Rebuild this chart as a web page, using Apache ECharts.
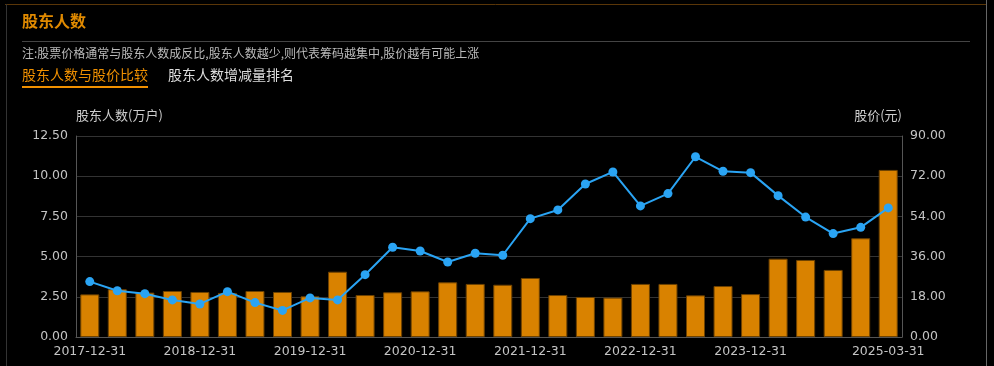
<!DOCTYPE html>
<html><head><meta charset="utf-8">
<script src="https://cdn.jsdelivr.net/npm/echarts@6/dist/echarts.min.js"></script>
<style>html,body{margin:0;padding:0;background:#000;}#c{width:994px;height:366px;}</style>
</head><body><div id="c"></div>
<script>
const categories = ['2017-12-31','2018-03-31','2018-06-30','2018-09-30','2018-12-31','2019-03-31','2019-06-30','2019-09-30','2019-12-31','2020-03-31','2020-06-30','2020-09-30','2020-12-31','2021-03-31','2021-06-30','2021-09-30','2021-12-31','2022-03-31','2022-06-30','2022-09-30','2022-12-31','2023-03-31','2023-06-30','2023-09-30','2023-12-31','2024-03-31','2024-06-30','2024-09-30','2024-12-31','2025-03-31'];
const holders = [2.65,2.97,2.76,2.86,2.80,2.74,2.86,2.80,2.53,4.06,2.61,2.78,2.84,3.40,3.30,3.25,3.67,2.61,2.49,2.45,3.30,3.30,2.59,3.17,2.67,4.87,4.79,4.17,6.14,10.39];
const prices = [24.8,20.7,19.4,16.6,14.8,20.3,15.4,11.9,17.5,16.6,27.9,40.2,38.5,33.6,37.5,36.6,53.0,56.9,68.5,73.9,58.7,64.2,80.7,74.2,73.6,63.3,53.7,46.3,49.1,57.8];
const leftTicks = {min:0,max:12.5,interval:2.5};
const rightTicks = {min:0,max:90,interval:18};

const chart = echarts.init(document.getElementById('c'));
const numFont = 'DejaVu Sans';
const cjk = '"Noto Sans CJK SC", sans-serif';
chart.setOption({
  backgroundColor:'#000',
  animation:false,
  graphic:[
    {type:'line',shape:{x1:5,y1:4.5,x2:986,y2:4.5},style:{stroke:'#5a3608',lineWidth:1}},
    {type:'line',shape:{x1:6.5,y1:4,x2:6.5,y2:366},style:{stroke:'#333',lineWidth:1}},
    {type:'line',shape:{x1:986.5,y1:0,x2:986.5,y2:366},style:{stroke:'#666',lineWidth:1}},
    {type:'line',shape:{x1:22,y1:41.5,x2:970,y2:41.5},style:{stroke:'#444',lineWidth:1}},
    {type:'text',left:22,top:13,style:{text:'股东人数',fill:'#e08a00',font:'bold 16px '+cjk}},
    {type:'text',left:22,top:47,style:{text:'注:股票价格通常与股东人数成反比,股东人数越少,则代表筹码越集中,股价越有可能上涨',fill:'#bbb',font:'12px '+cjk}},
    {type:'text',left:22,top:68,style:{text:'股东人数与股价比较',fill:'#f09000',font:'14px '+cjk}},
    {type:'line',shape:{x1:22,y1:87,x2:148,y2:87},style:{stroke:'#f09000',lineWidth:2}},
    {type:'text',left:168,top:68,style:{text:'股东人数增减量排名',fill:'#ddd',font:'14px '+cjk}}
  ],
  grid:{left:76,right:92,top:136,bottom:29},
  xAxis:{type:'category',data:categories,
    axisLine:{lineStyle:{color:'#555'}},axisTick:{show:false},
    axisLabel:{color:'#c4c4c4',fontFamily:numFont,fontSize:12.5,margin:8,
      interval:function(i){return (i%4===0 && i<28) || i===29;}}},
  yAxis:[
    {type:'value',min:leftTicks.min,max:leftTicks.max,interval:leftTicks.interval,
     name:'股东人数(万户)',nameLocation:'end',nameGap:14,
     nameTextStyle:{color:'#ccc',fontFamily:cjk,fontSize:13,align:'left'},
     axisLine:{show:true,lineStyle:{color:'#555'}},axisTick:{show:false},
     axisLabel:{color:'#c4c4c4',fontFamily:numFont,fontSize:12.5,margin:8,formatter:v=>v.toFixed(2)},
     splitLine:{lineStyle:{color:'#333'}}},
    {type:'value',min:rightTicks.min,max:rightTicks.max,interval:rightTicks.interval,
     name:'股价(元)',nameLocation:'end',nameGap:14,
     nameTextStyle:{color:'#ccc',fontFamily:cjk,fontSize:13,align:'right'},
     axisLine:{show:true,lineStyle:{color:'#555'}},axisTick:{show:false},
     axisLabel:{color:'#c4c4c4',fontFamily:numFont,fontSize:12.5,margin:8,formatter:v=>v.toFixed(2)},
     splitLine:{show:false}}
  ],
  series:[
    {type:'bar',data:holders,barWidth:19,yAxisIndex:0,
     itemStyle:{color:'#d98200',borderColor:'#6e4200',borderWidth:1}},
    {type:'line',data:prices,yAxisIndex:1,symbol:'circle',symbolSize:9,
     lineStyle:{color:'#2aa4f4',width:2},itemStyle:{color:'#2aa4f4'}}
  ]
});
</script></body></html>
